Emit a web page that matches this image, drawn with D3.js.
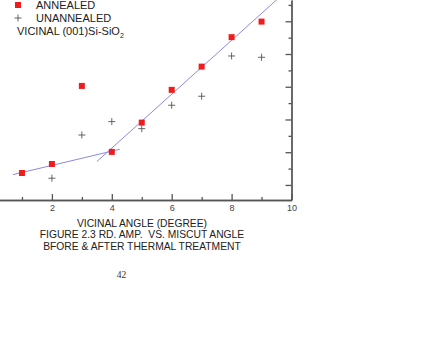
<!DOCTYPE html>
<html lang="en">
<head>
    <meta charset="UTF-8">
    <title>RD. AMP. vs Miscut Angle</title>
    <script src="https://d3js.org/d3.v7.min.js"></script>
    <style>
        body { margin: 0; background: #fff; }
        svg { display: block; font-family: "Liberation Sans", Arial, sans-serif; }
    </style>
</head>
<body>
<div id="chart"></div>
<script>
    // vicinal angle (degree) for each sample
    const annealedAngle = [1, 2, 3, 4, 5, 6, 7, 8, 9];
    const annealedAmp = [2.73, 3.28, 8.05, 4.02, 5.81, 7.81, 9.23, 11.03, 11.98];
    const unannealedAngle = [2, 3, 4, 5, 6, 7, 8, 9];
    const unannealedAmp = [2.41, 5.05, 5.87, 5.44, 6.87, 7.42, 9.88, 9.80];
    // two fitted straight lines (end points)
    const fitLow = [[0.7, 2.63], [4.27, 4.18]];
    const fitHigh = [[3.5, 3.43], [9.6, 13.47]];
    const xMajor = [2, 4, 6, 8, 10];
    const xMinor = [1, 3, 5, 7, 9];
    const yMajor = [2, 4, 6, 8, 10, 12];
    const yMinor = [3, 5, 7, 9, 11, 13];
    const legendLabels = ["ANNEALED", "UNANNEALED"];
    const captionLines = ["VICINAL ANGLE (DEGREE)", "FIGURE 2.3 RD. AMP.  VS. MISCUT ANGLE", "BFORE & AFTER THERMAL TREATMENT"];
    const pageNumber = "42";

    const W = 430, H = 337;
    const axisColor = "#555";

    const svg = d3.select("#chart").append("svg")
        .attr("width", W).attr("height", H);

    const x = d3.scaleLinear().domain([0, 10]).range([-8, 291.5]);
    const y = d3.scaleLinear().domain([1.08, 13.3]).range([200, 0]);

    // bottom axis
    const gx = svg.append("g").attr("transform", "translate(0,200)");
    gx.call(d3.axisBottom(x).tickValues(xMinor).tickSize(-3).tickSizeOuter(0).tickFormat(""));
    gx.append("g").call(d3.axisBottom(x).tickValues(xMajor).tickSize(-6).tickSizeOuter(0).tickPadding(5));
    gx.selectAll("path, line").attr("stroke", axisColor).attr("stroke-width", 1.3);
    gx.selectAll("text").attr("font-size", 9).attr("fill", "#444")
        .attr("font-family", "'Liberation Sans', Arial, sans-serif");

    // right axis
    const gy = svg.append("g").attr("transform", "translate(291.5,0)");
    gy.call(d3.axisRight(y).tickValues(yMinor).tickSize(-3).tickSizeOuter(0).tickFormat(""));
    gy.append("g").call(d3.axisRight(y).tickValues(yMajor).tickSize(-6).tickSizeOuter(0).tickFormat(""));
    gy.selectAll("path, line").attr("stroke", axisColor).attr("stroke-width", 1.3);

    // fit lines
    const line = d3.line().x(d => x(d[0])).y(d => y(d[1]));
    [fitLow, fitHigh].forEach(seg => {
        svg.append("path")
            .datum(seg)
            .attr("d", line)
            .attr("fill", "none")
            .attr("stroke", "#8a8ae6")
            .attr("stroke-width", 1);
    });

    // annealed: red squares
    svg.append("g").selectAll("rect")
        .data(annealedAngle.map((a, i) => [a, annealedAmp[i]]))
        .join("rect")
        .attr("x", d => x(d[0]) - 3)
        .attr("y", d => y(d[1]) - 3)
        .attr("width", 6).attr("height", 6)
        .attr("fill", "#ee1c1c");

    // unannealed: plus signs
    svg.append("g").selectAll("path")
        .data(unannealedAngle.map((a, i) => [a, unannealedAmp[i]]))
        .join("path")
        .attr("transform", d => `translate(${x(d[0])},${y(d[1])})`)
        .attr("d", "M-3.5,0H3.5M0,-3.5V3.5")
        .attr("stroke", "#555")
        .attr("stroke-width", 0.9)
        .attr("fill", "none");

    // legend
    const leg = svg.append("g");
    leg.append("rect").attr("x", 15).attr("y", 2).attr("width", 6).attr("height", 6).attr("fill", "#ee1c1c");
    leg.append("path").attr("d", "M14.5,18H21.5M18,14.5V21.5").attr("stroke", "#555").attr("stroke-width", 0.9);
    leg.selectAll("text.lab")
        .data(legendLabels)
        .join("text")
        .attr("class", "lab")
        .attr("x", 36)
        .attr("y", (d, i) => 9 + i * 13)
        .attr("font-size", 11)
        .attr("fill", "#222")
        .text(d => d);
    const note = leg.append("text")
        .attr("x", 17).attr("y", 35)
        .attr("font-size", 11).attr("fill", "#222");
    note.append("tspan").text("VICINAL (001)Si-SiO");
    note.append("tspan").attr("font-size", 7).attr("dy", 3).text("2");

    // captions
    svg.selectAll("text.cap")
        .data(captionLines)
        .join("text")
        .attr("class", "cap")
        .attr("x", 142)
        .attr("y", (d, i) => 227 + i * 11.3)
        .attr("text-anchor", "middle")
        .attr("font-size", 10.3)
        .attr("fill", "#222")
        .style("white-space", "pre")
        .text(d => d);

    svg.append("text")
        .attr("x", 121.5).attr("y", 278)
        .attr("text-anchor", "middle")
        .attr("font-family", "'Liberation Serif', 'Times New Roman', serif")
        .attr("font-size", 9.5)
        .attr("fill", "#333")
        .text(pageNumber);
</script>
</body>
</html>
